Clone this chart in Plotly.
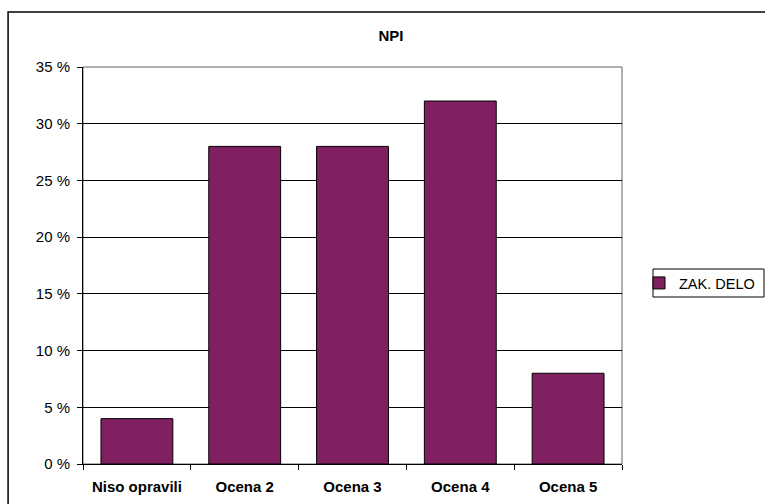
import plotly.graph_objects as go

categories = ["Niso opravili", "Ocena 2", "Ocena 3", "Ocena 4", "Ocena 5"]
values = [4, 28, 28, 32, 8]
y_ticks = [0, 5, 10, 15, 20, 25, 30, 35]
y_tick_labels = [f"{v} %" for v in y_ticks]

FONT = "Arial, Liberation Sans, sans-serif"

fig = go.Figure()

fig.add_trace(
    go.Bar(
        x=categories, y=values,
        name="ZAK. DELO",
        marker=dict(color="#802060", line=dict(color="black", width=1)),
    )
)

fig.update_layout(
    width=765, height=504,
    margin=dict(l=83, r=143, t=67, b=40),
    paper_bgcolor="white",
    plot_bgcolor="white",
    font=dict(family=FONT, size=15, color="black"),
    title=dict(text="<b>NPI</b>", x=0.511, xanchor="center", y=0.929, yanchor="middle",
               font=dict(size=15, family=FONT)),
    bargap=1 / 3,
    showlegend=True,
    legend=dict(xref="container", yref="container",
                x=639 / 765, xanchor="left", y=(504 - 283) / 504, yanchor="middle",
                borderwidth=0, bgcolor="rgba(0,0,0,0)",
                font=dict(size=14.5), itemwidth=30),
    xaxis=dict(
        showline=True, linecolor="black", linewidth=1, mirror=False,
        ticks="outside", tickson="boundaries", ticklen=5, tickcolor="black",
        tickvals=categories, ticktext=[f"<b>{c}</b>" for c in categories],
        tickfont=dict(family=FONT, size=15, color="black"),
        ticklabelstandoff=9, automargin=False,
        showgrid=False,
    ),
    yaxis=dict(
        range=[0, 35], tickvals=y_ticks, ticktext=y_tick_labels,
        showline=True, linecolor="black", linewidth=1,
        ticks="outside", ticklen=5, tickcolor="black",
        ticklabelstandoff=4, automargin=False,
        showgrid=True, gridcolor="black", gridwidth=1,
        zeroline=False,
    ),
    shapes=[
        # plot area border (top and right)
        dict(type="rect", xref="paper", yref="paper", x0=0, x1=1, y0=0, y1=1,
             line=dict(color="#606060", width=1), layer="below"),
        # outer chart border (cropped by the page edge)
        dict(type="rect", xref="paper", yref="paper", x0=-0.139, x1=1.4, y0=-0.3, y1=1.1385,
             line=dict(color="black", width=1.5)),
        # legend box
        dict(type="rect", xref="paper", yref="paper",
             x0=(653 - 83) / 539, x1=(764 - 83) / 539,
             y0=(464 - 297) / 397, y1=(464 - 269) / 397,
             line=dict(color="black", width=1)),
    ],
)

fig.write_html("out.html", config={"displayModeBar": False},
               post_script="document.body.style.margin='0';")
